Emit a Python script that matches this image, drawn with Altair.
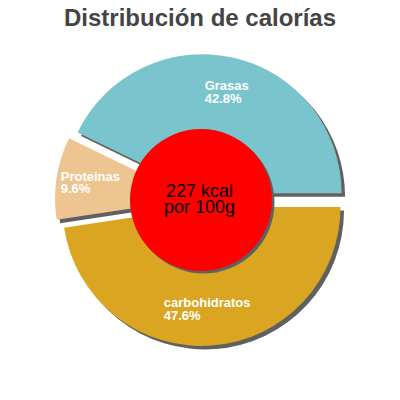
import math
import altair as alt
import pandas as pd

# ---- data ----
labels = ["carbohidratos", "Proteinas", "Grasas"]   # clockwise from 3 o'clock
percents = [47.6, 9.6, 42.8]
colors = ["#DAA520", "#EEC591", "#7AC5CD"]
kcal = [227]
per_text = ["por 100g"]
title_text = "Distribución de calorías"

# ---- layout constants ----
CX, CY = 193, 162        # pie centre inside the plot area
R = 139                  # outer radius
EXPLODE = 7              # slice offset
LABEL_R = 110            # label distance from centre
SHADOW = 3.5             # shadow offset
CIRCLE_R = 71
FONT = "Liberation Sans"

df = pd.DataFrame({"label": labels, "pct": percents, "order": list(range(len(labels)))})
center_df = pd.DataFrame({"kcal": kcal, "per": per_text})

base = (
    alt.Chart(df)
    .transform_window(cum="sum(pct)", sort=[alt.SortField("order")], frame=[None, 0])
    .transform_calculate(start="datum.cum - datum.pct")
    .transform_calculate(mid="(datum.cum - datum.pct/2)/100*2*PI + PI/2")
    .transform_calculate(ax=f"{CX} + {EXPLODE}*sin(datum.mid)")
    .transform_calculate(ay=f"{CY} - {EXPLODE}*cos(datum.mid)")
    .transform_calculate(sx=f"datum.ax + {SHADOW}")
    .transform_calculate(sy=f"datum.ay + {SHADOW}")
    .transform_calculate(lx=f"{CX} + {LABEL_R}*sin(datum.mid) - length(datum.label)*3.5")
    .transform_calculate(ly=f"{CY} - {LABEL_R}*cos(datum.mid)")
    .transform_calculate(ly1="datum.ly - 2.5")
    .transform_calculate(ly2="datum.ly + 10")
    .transform_calculate(ptxt="format(datum.pct, '.1f') + '%'")
)

theta_enc = alt.Theta(
    "start:Q",
    scale=alt.Scale(domain=[0, 100], range=[math.pi / 2, 5 * math.pi / 2]),
    stack=None,
)

shadow_slices = base.mark_arc(radius=R, color="#606060").encode(
    x=alt.X("sx:Q", scale=None, axis=None),
    y=alt.Y("sy:Q", scale=None, axis=None),
    theta=theta_enc,
    theta2="cum:Q",
)

slices = base.mark_arc(radius=R).encode(
    x=alt.X("ax:Q", scale=None, axis=None),
    y=alt.Y("ay:Q", scale=None, axis=None),
    theta=theta_enc,
    theta2="cum:Q",
    color=alt.Color("label:N", scale=alt.Scale(domain=labels, range=colors), legend=None),
)

name_text = base.mark_text(
    align="left", baseline="alphabetic", font=FONT, fontWeight="bold", fontSize=13, color="white"
).encode(
    x=alt.X("lx:Q", scale=None, axis=None),
    y=alt.Y("ly1:Q", scale=None, axis=None),
    text="label:N",
)

pct_text = base.mark_text(
    align="left", baseline="alphabetic", font=FONT, fontWeight="bold", fontSize=13, color="white"
).encode(
    x=alt.X("lx:Q", scale=None, axis=None),
    y=alt.Y("ly2:Q", scale=None, axis=None),
    text="ptxt:N",
)

cbase = alt.Chart(center_df)

circle_shadow = cbase.mark_arc(radius=CIRCLE_R, color="#606060").encode(
    x=alt.value(CX + 2.5),
    y=alt.value(CY + 2.5),
    theta=alt.value(0),
    theta2=alt.value(2 * math.pi),
)

circle = cbase.mark_arc(radius=CIRCLE_R, color="#FF0000").encode(
    x=alt.value(CX),
    y=alt.value(CY),
    theta=alt.value(0),
    theta2=alt.value(2 * math.pi),
)

kcal_text = cbase.transform_calculate(t="datum.kcal + ' kcal'").mark_text(
    align="center", baseline="alphabetic", font=FONT, fontSize=18, color="black"
).encode(
    x=alt.value(CX - 1.5),
    y=alt.value(CY - 3.3),
    text="t:N",
)

per_text_mark = cbase.mark_text(
    align="center", baseline="alphabetic", font=FONT, fontSize=18, color="black"
).encode(
    x=alt.value(CX - 1.5),
    y=alt.value(CY + 13),
    text="per:N",
)

chart = (
    alt.layer(
        shadow_slices, slices, name_text, pct_text,
        circle_shadow, circle, kcal_text, per_text_mark,
    )
    .properties(
        width=384,
        height=324,
        padding={"left": 0, "right": 0, "top": 30, "bottom": 30},
        autosize=alt.AutoSizeParams(type="none"),
        title=alt.Title(
            title_text,
            font=FONT,
            fontSize=24,
            fontWeight="bold",
            color="#444444",
            anchor="middle",
            frame="group",
            baseline="bottom",
            offset=8,
            dy=25,
        ),
    )
    .configure_view(stroke=None)
)

chart.save("out.html", embed_options={"renderer": "svg", "actions": False})
